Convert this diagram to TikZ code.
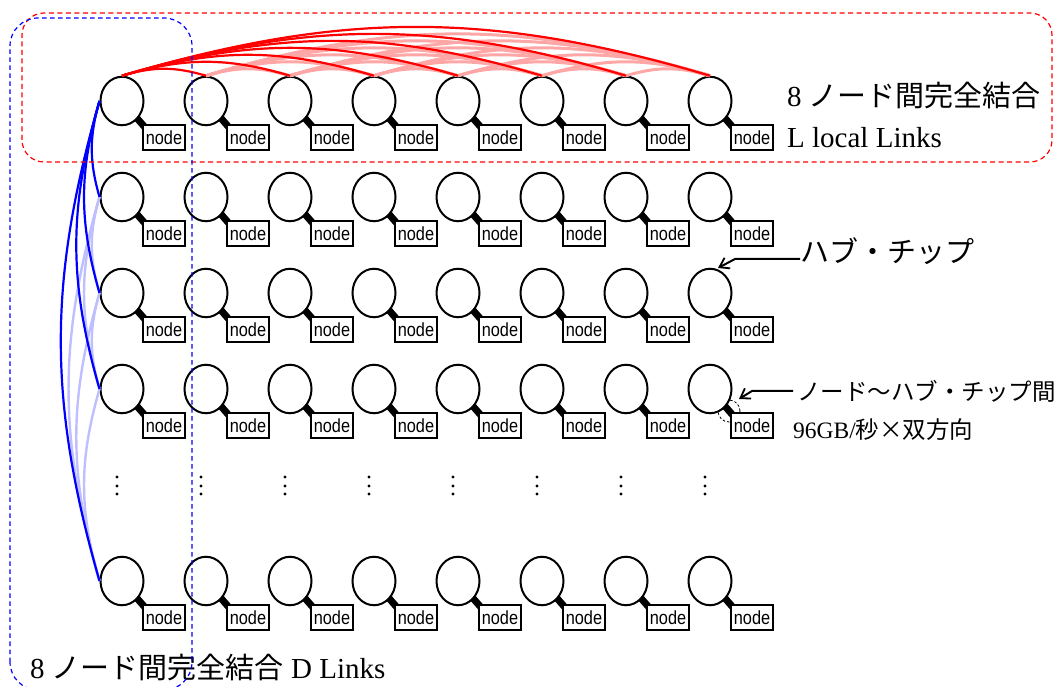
\documentclass[tikz,border=0pt]{standalone}
\usepackage{fontspec}
\setmainfont{Liberation Serif}
\newfontfamily\jpfont{Noto Sans CJK JP}
\newfontfamily\labelfont[FakeStretch=0.86]{Liberation Sans}
\usetikzlibrary{shapes.geometric,arrows.meta,calc}
\pgfdeclarelayer{background}
\pgfsetlayers{background,main}
\newcommand{\txtbig}{\fontsize{29pt}{29pt}\selectfont}
\newcommand{\txtsmall}{\fontsize{23.5pt}{23.5pt}\selectfont}

\begin{document}
\begin{tikzpicture}[x=1pt,y=1pt,
  hub/.style={ellipse,draw,line width=2pt,fill=white,minimum width=43pt,minimum height=48.5pt,inner sep=0pt},
  nodebox/.style={draw,line width=1.7pt,fill=white,minimum width=42pt,minimum height=25pt,inner sep=0pt,
    font=\labelfont\fontsize{19pt}{19pt}\selectfont},
  conn/.style={line width=7pt},
  llink/.style={red,line width=2.2pt},
  llinkf/.style={red!35,line width=3pt},
  dlink/.style={blue,line width=2.2pt},
  dlinkf/.style={blue!25,line width=2.4pt},
  lgroup/.style={red,line width=1.2pt,dash pattern=on 5pt off 3.5pt,rounded corners=22pt},
  dgroup/.style={blue,line width=1.2pt,dash pattern=on 4.5pt off 3.5pt,rounded corners=28pt},
  callout/.style={line width=2pt,-{Straight Barb[length=9pt,width=12pt,line width=1.8pt]}},
  label/.style={inner sep=0pt,anchor=base west}
]
\useasboundingbox (0,0) rectangle (1061,686);

% hub chips and their attached nodes
\foreach \r/\y in {1/585,2/489,3/393,4/297,5/105}{
  \foreach \c in {1,...,8}{
    \node[hub] (h\r\c) at ({122+84*(\c-1)},\y) {};
    \node[nodebox] (n\r\c) at ($(h\r\c)+(42,-36.5)$) {node};
    \begin{pgfonlayer}{background}
      \draw[conn] (h\r\c.center) -- ($(h\r\c.center)!1.25!(n\r\c.north west)$);
    \end{pgfonlayer}
  }
}

% highlighted node-to-hub link
\coordinate (lk) at ($(h48)+(19,-22)$);
\begin{pgfonlayer}{background}
  \draw[line width=0.8pt,dash pattern=on 2.5pt off 2pt] (lk) circle (11);
\end{pgfonlayer}

% vertical ellipsis between row 4 and the last row
\foreach \c in {1,...,8}{
  \foreach \y in {209,200,192}{
    \fill ({117+84*(\c-1)},\y) circle (1.7);
  }
}

% local links: full mesh within the first row
\foreach \i in {2,...,7}{
  \pgfmathtruncatemacro\s{\i+1}
  \foreach \j in {\s,...,8}{
    \draw[llinkf] (h1\i.north) to[out=16.5,in=163.5] (h1\j.north);
  }
}
\foreach \j in {2,...,8}{
  \draw[llink] (h11.north) to[out=16.5,in=163.5] (h1\j.north);
}

% D links: full mesh within the first column
\foreach \i in {2,...,4}{
  \pgfmathtruncatemacro\s{\i+1}
  \foreach \j in {\s,...,5}{
    \draw[dlinkf] (h\i1.west) to[out=254,in=106] (h\j1.west);
  }
}
\foreach \j in {2,...,5}{
  \draw[dlink] (h11.west) to[out=254,in=106] (h\j1.west);
}

% labels
\node[label] (tl1) at (787,579) {\txtbig 8 {\jpfont ノード間完全結合}};
\node[label] (tl2) at (787,538) {\txtbig L local Links};
\node[label] (thub) at (800,423) {\txtbig\jpfont ハブ・チップ};
\node[label] (tbw1) at (797,285) {\txtsmall\jpfont ノード〜ハブ・チップ間};
\node[label] (tbw2) at (793,247) {\txtsmall 96GB/{\jpfont 秒×双方向}};
\node[label] (tdl) at (30,8) {\txtbig 8 {\jpfont ノード間完全結合} D Links};

% callout arrows
\coordinate (a1s) at (800,427);
\coordinate (a1b) at (735,427);
\coordinate (a1t) at (718,418);
\draw[callout] (a1s) -- (a1b) -- (a1t);
\coordinate (a2s) at (793,295);
\coordinate (a2b) at (752,295);
\coordinate (a2t) at (739,287);
\draw[callout] (a2s) -- (a2b) -- (a2t);

% link groups
\draw[lgroup] (22,524) rectangle (1052,673);
\draw[dgroup] (10,-4) rectangle (192,668);
\end{tikzpicture}
\end{document}
